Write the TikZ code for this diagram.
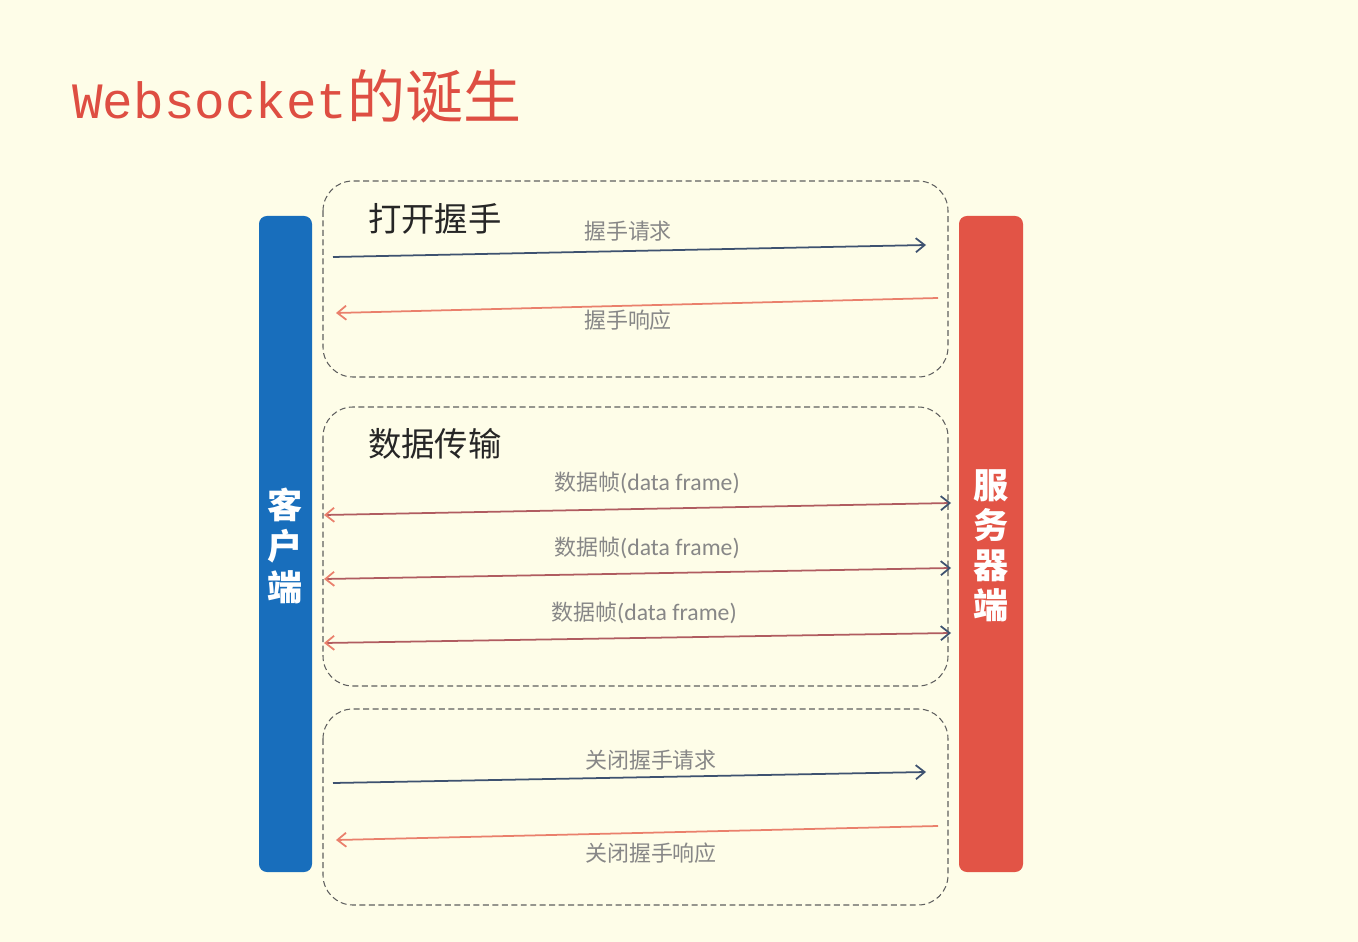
\documentclass[tikz,border=0pt]{standalone}
\usepackage{fontspec}
\setmainfont{Noto Sans CJK SC}
\newfontfamily\titlelatin{Liberation Mono}
\newfontfamily\lbllatin{Carlito}
\usetikzlibrary{arrows.meta}

\definecolor{paper}{RGB}{254,253,232}
\definecolor{clientblue}{RGB}{24,110,188}
\definecolor{serverred}{RGB}{226,84,70}
\definecolor{titlered}{RGB}{222,78,66}
\definecolor{slate}{RGB}{62,82,112}
\definecolor{salmon}{RGB}{234,128,108}
\definecolor{mixed}{RGB}{176,92,96}
\definecolor{framegray}{RGB}{95,95,95}
\definecolor{lblgray}{RGB}{135,135,135}

\begin{document}
\begin{tikzpicture}[x=0.02cm,y=-0.02cm,
    frame/.style={draw=framegray,line width=0.6pt,dash pattern=on 3.4pt off 2pt,rounded corners=17pt},
    bartext/.style={text=white,align=center,font=\fontsize{20}{23.5}\selectfont\bfseries},
    boxtitle/.style={anchor=west,font=\fontsize{19}{22}\selectfont,text=black!85},
    lbl/.style={text=lblgray,font=\fontsize{12.5}{14}\selectfont},
    reqarrow/.style={draw=slate,line width=1pt,-{Straight Barb[length=5pt,width=8pt]}},
    resparrow/.style={draw=salmon,line width=1pt,-{Straight Barb[length=5pt,width=8pt]}},
    dataarrow/.style={draw=mixed,line width=1pt,
      {Straight Barb[length=5pt,width=8pt,color=salmon]}-{Straight Barb[length=5pt,width=8pt,color=slate]}}]

  % background
  \fill[paper] (0,0) rectangle (1358,942);
  \useasboundingbox (0,0) rectangle (1358,942);

  % title
  \node[anchor=base west,inner sep=0pt,text=titlered] (title) at (72,119)
    {{\titlelatin\fontsize{29}{34}\selectfont Websocket}{\fontsize{33}{38}\selectfont 的诞生}};

  % client and server bars
  \fill[clientblue,rounded corners=4.5pt] (259,216) rectangle (312,872);
  \fill[serverred,rounded corners=4.5pt] (959,216) rectangle (1023,872);
  \node[bartext] (client) at (285,546) {客\\户\\端};
  \node[bartext,font=\fontsize{20}{22.7}\selectfont\bfseries] (server) at (991,546) {服\\务\\器\\端};

  % dashed frames
  \draw[frame] (323,181) rectangle (948,377);
  \draw[frame] (323,407) rectangle (948,686);
  \draw[frame] (323,709) rectangle (948,905);

  \node[boxtitle] (opentitle) at (362,219) {打开握手};
  \node[boxtitle] (datatitle) at (362,444) {数据传输};

  % opening handshake
  \coordinate (openreqA) at (333,257);
  \coordinate (openreqB) at (926,245);
  \coordinate (openrespA) at (938,298);
  \coordinate (openrespB) at (336,313);
  \draw[reqarrow] (openreqA) -- (openreqB);
  \draw[resparrow] (openrespA) -- (openrespB);
  \node[lbl] (openreq) at (628,231) {握手请求};
  \node[lbl] (openresp) at (628,320) {握手响应};

  % data frames
  \foreach \i/\yl/\yr/\xl in {1/515/503/647, 2/579/568/647, 3/643/633/644} {
    \coordinate (dataA\i) at (324,\yl);
    \coordinate (dataB\i) at (951,\yr);
    \draw[dataarrow] (dataA\i) -- (dataB\i);
    \node[lbl] (datalbl\i) at (\xl,\yr-20) {数据帧{\lbllatin\fontsize{13.5}{14}\selectfont(data frame)}};
  }

  % closing handshake
  \coordinate (closereqA) at (333,783);
  \coordinate (closereqB) at (926,772);
  \coordinate (closerespA) at (938,826);
  \coordinate (closerespB) at (336,840);
  \draw[reqarrow] (closereqA) -- (closereqB);
  \draw[resparrow] (closerespA) -- (closerespB);
  \node[lbl] (closereq) at (651,760) {关闭握手请求};
  \node[lbl] (closeresp) at (651,853) {关闭握手响应};
\end{tikzpicture}
\end{document}
